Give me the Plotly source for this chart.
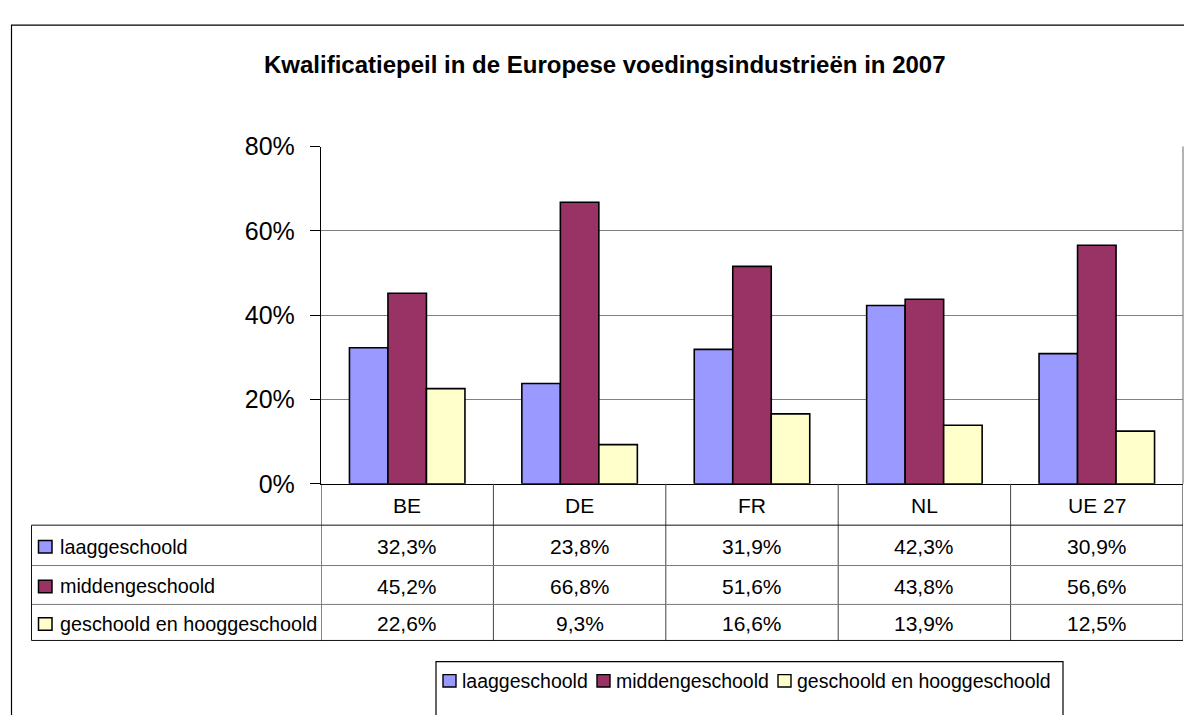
import plotly.graph_objects as go

# ---------------- data ----------------
title_text = "Kwalificatiepeil in de Europese voedingsindustrieën in 2007"
categories = ["BE", "DE", "FR", "NL", "UE 27"]
series_names = ["laaggeschoold", "middengeschoold", "geschoold en hooggeschoold"]
laaggeschoold = [32.3, 23.8, 31.9, 42.3, 30.9]
middengeschoold = [45.2, 66.8, 51.6, 43.8, 56.6]
geschoold_hoog = [22.6, 9.3, 16.6, 13.9, 12.5]
series_values = [laaggeschoold, middengeschoold, geschoold_hoog]
series_colors = ["#9999FF", "#993366", "#FFFFCC"]
y_ticks = [0, 20, 40, 60, 80]
y_ticklabels = ["0%", "20%", "40%", "60%", "80%"]

# ---------------- geometry helpers (pixels -> paper) ----------------
W, H = 1184, 715
def px(x):
    return x / W
def py(y):
    return 1 - y / H

PLOT_L, PLOT_R, PLOT_T, PLOT_B = 321, 1183, 138, 489
TABLE_L = 31.5
ROW_LINES = [489, 532, 574, 614.5, 652]
FONT = "Liberation Sans, Arial, sans-serif"
OUTER_C = "#111111"
INNER_V = "#444444"
INNER_H = "#7a7a7a"

def fmt(v):
    return f"{v:.1f}".replace(".", ",") + "%"

fig = go.Figure()
for name, vals, col in zip(series_names, series_values, series_colors):
    fig.add_trace(go.Bar(
        x=categories, y=vals, name=name,
        marker=dict(color=col, line=dict(color="black", width=1.6)),
        showlegend=False,
    ))

shapes = []
annotations = []

# outer chart border
shapes.append(dict(type="rect", xref="paper", yref="paper",
                   x0=px(11.5), x1=px(1210), y0=py(11.5), y1=py(760),
                   line=dict(color="black", width=1.2), layer="below"))
# right border of plot area
shapes.append(dict(type="line", xref="paper", yref="paper",
                   x0=px(PLOT_R), x1=px(PLOT_R), y0=py(PLOT_T), y1=py(PLOT_B),
                   line=dict(color="#808080", width=1.2)))

# table: vertical lines at category boundaries (axis scale)
n = len(categories)
for i in range(n + 1):
    outer = i in (0, n)
    shapes.append(dict(type="line", xref="x", yref="paper",
                       x0=i - 0.5, x1=i - 0.5, y0=py(ROW_LINES[0]), y1=py(ROW_LINES[-1]),
                       line=dict(color=OUTER_C if outer else INNER_V, width=1)))
# horizontal row lines
for k, yl in enumerate(ROW_LINES[1:]):
    last = k == len(ROW_LINES) - 2
    first = k == 0
    shapes.append(dict(type="line", xref="paper", yref="paper",
                       x0=px(TABLE_L), x1=px(PLOT_R), y0=py(yl), y1=py(yl),
                       line=dict(color=OUTER_C if (last or first) else INNER_H, width=1)))
# table left border
shapes.append(dict(type="line", xref="paper", yref="paper",
                   x0=px(TABLE_L), x1=px(TABLE_L), y0=py(ROW_LINES[1]), y1=py(ROW_LINES[-1]),
                   line=dict(color=OUTER_C, width=1)))

# header labels
hdr_y = (ROW_LINES[0] + ROW_LINES[1]) / 2 + 1.5
for i, c in enumerate(categories):
    annotations.append(dict(xref="x", yref="paper", x=i, y=py(hdr_y), text=c,
                            showarrow=False, xanchor="center", yanchor="middle",
                            font=dict(family=FONT, size=21, color="black")))

# rows
for r, (name, vals, col) in enumerate(zip(series_names, series_values, series_colors)):
    yc = (ROW_LINES[r + 1] + ROW_LINES[r + 2]) / 2 + 1.5
    shapes.append(dict(type="rect", xref="paper", yref="paper",
                       x0=px(38.5), x1=px(52), y0=py(yc - 6.5), y1=py(yc + 6.5),
                       fillcolor=col, line=dict(color="black", width=1.5)))
    annotations.append(dict(xref="paper", yref="paper", x=px(58), y=py(yc), text=name,
                            showarrow=False, xanchor="left", yanchor="middle",
                            font=dict(family=FONT, size=19.8, color="black")))
    for i, v in enumerate(vals):
        annotations.append(dict(xref="x", yref="paper", x=i, y=py(yc), text=fmt(v),
                                showarrow=False, xanchor="center", yanchor="middle",
                                font=dict(family=FONT, size=21, color="black")))

# legend (manual)
shapes.append(dict(type="rect", xref="paper", yref="paper",
                   x0=px(436), x1=px(1063), y0=py(674), y1=py(760),
                   line=dict(color="black", width=1.2)))
leg_sq_x = [443, 597, 778]
leg_txt_x = [460, 614, 795]
leg_y = 694
for name, col, sx, tx in zip(series_names, series_colors, leg_sq_x, leg_txt_x):
    shapes.append(dict(type="rect", xref="paper", yref="paper",
                       x0=px(sx), x1=px(sx + 13), y0=py(leg_y - 6.5), y1=py(leg_y + 6.5),
                       fillcolor=col, line=dict(color="black", width=1.4)))
    annotations.append(dict(xref="paper", yref="paper", x=px(tx), y=py(leg_y), text=name,
                            showarrow=False, xanchor="left", yanchor="middle",
                            font=dict(family=FONT, size=19.5, color="black")))

# title
annotations.append(dict(xref="paper", yref="paper", x=px(605), y=py(53),
                        text="<b>" + title_text + "</b>", showarrow=False,
                        xanchor="center", yanchor="middle",
                        font=dict(family=FONT, size=24, color="black")))

fig.update_layout(
    width=W, height=H,
    margin=dict(l=0, r=0, t=0, b=0),
    paper_bgcolor="white", plot_bgcolor="white",
    barmode="group", bargap=0.33, bargroupgap=0,
    shapes=shapes, annotations=annotations,
    xaxis=dict(domain=[px(PLOT_L), px(PLOT_R)], range=[-0.5, n - 0.5],
               showticklabels=False, ticks="", showgrid=False, zeroline=False,
               showline=True, linecolor="black", linewidth=1.2, fixedrange=True),
    yaxis=dict(domain=[py(PLOT_B), py(PLOT_T)], range=[0, 80],
               tickvals=y_ticks, ticktext=y_ticklabels,
               tickfont=dict(family=FONT, size=25, color="black"),
               ticks="outside", ticklen=10, tickcolor="black", tickwidth=1,
               ticklabelstandoff=10,
               showgrid=True, gridcolor="#808080", gridwidth=1,
               zeroline=False, showline=True, linecolor="black", linewidth=1.2,
               fixedrange=True),
    showlegend=False,
)

fig.write_html(
    "out.html",
    config={"displayModeBar": False, "staticPlot": True},
    post_script=(
        "document.body.style.margin='0';"
        "var d=document.getElementById('{plot_id}');"
        "d.style.position='fixed';d.style.left='0px';d.style.top='0px';"
    ),
)
